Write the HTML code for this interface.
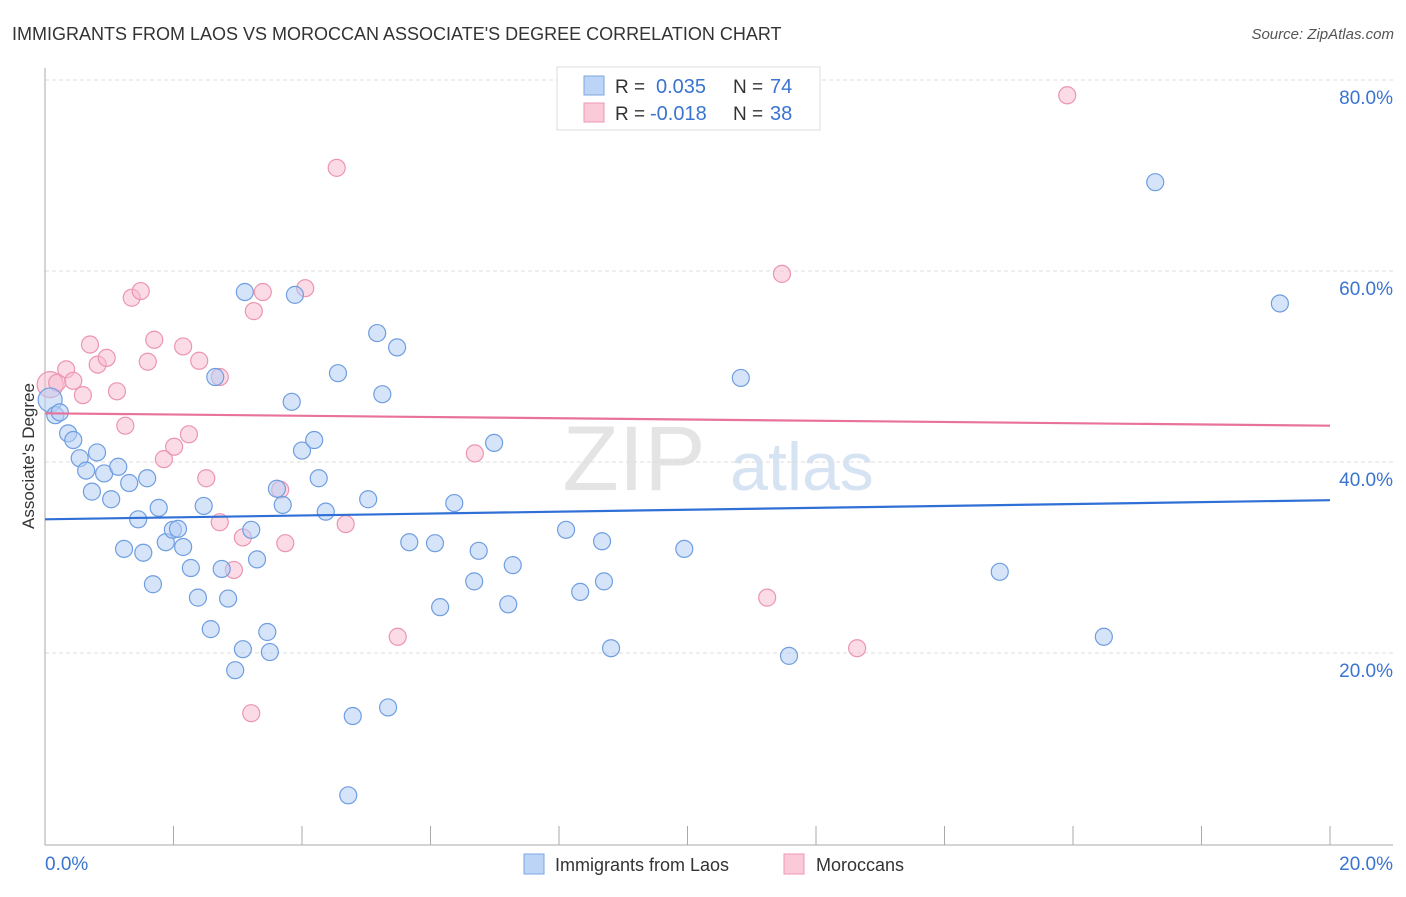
<!DOCTYPE html>
<html><head><meta charset="utf-8"><style>
body{margin:0;background:#fff;font-family:"Liberation Sans",sans-serif;}
svg text{font-family:"Liberation Sans",sans-serif;}
</style></head><body>
<svg id="chart" width="1406" height="892" xmlns="http://www.w3.org/2000/svg">
<text x="12" y="40" font-size="18" fill="#333">IMMIGRANTS FROM LAOS VS MOROCCAN ASSOCIATE'S DEGREE CORRELATION CHART</text>
<text x="1394" y="39" font-size="15" fill="#555" text-anchor="end" font-style="italic">Source: ZipAtlas.com</text>
<g>
<text x="634" y="490" font-size="92" fill="#e4e4e4" text-anchor="middle" font-family="Liberation Serif">ZIP</text>
<text x="802" y="490" font-size="68" fill="#d6e3f3" text-anchor="middle">atlas</text>
</g>
<g id="grid"></g>
<g id="axes"></g>
<g id="marks"></g>
<text transform="translate(34,456) rotate(-90)" font-size="17" fill="#333" text-anchor="middle">Associate's Degree</text>
<g>
<rect x="557" y="67" width="263" height="63" fill="#fff" stroke="#ddd"/>
<rect x="584" y="76" width="20" height="19" fill="#bcd4f5" stroke="#7ea6e0"/>
<rect x="584" y="103" width="20" height="19" fill="#fbcad8" stroke="#ec95b0"/>
<text x="615" y="93" font-size="19" fill="#333">R = </text><text x="656" y="93" font-size="20" fill="#3a74d0">0.035</text>
<text x="733" y="93" font-size="19" fill="#333">N = </text><text x="770" y="93" font-size="20" fill="#3a74d0">74</text>
<text x="615" y="120" font-size="19" fill="#333">R = </text><text x="650" y="120" font-size="20" fill="#3a74d0">-0.018</text>
<text x="733" y="120" font-size="19" fill="#333">N = </text><text x="770" y="120" font-size="20" fill="#3a74d0">38</text>
</g>
<g>
<rect x="524" y="854" width="20" height="20" fill="#bcd4f5" stroke="#7ea6e0"/>
<text x="555" y="871" font-size="18" fill="#333">Immigrants from Laos</text>
<rect x="784" y="854" width="20" height="20" fill="#fbcad8" stroke="#ec95b0"/>
<text x="816" y="871" font-size="18" fill="#333">Moroccans</text>
</g>
</svg>
<script>
const yTicks=[20,40,60,80];
const yTickLabels=["20.0%","40.0%","60.0%","80.0%"];
const xTicks=[0,2,4,6,8,10,12,14,16,18,20];
const xTickLabels=["0.0%","20.0%"];
const laosX=[0.08,0.16,0.23,0.36,0.44,0.54,0.64,0.73,0.81,0.92,1.03,1.14,1.23,1.31,1.45,1.53,1.59,1.68,1.77,1.88,1.99,2.07,2.15,2.27,2.38,2.47,2.58,2.65,2.75,2.85,2.96,3.08,3.11,3.21,3.30,3.46,3.50,3.61,3.70,3.84,3.89,4.00,4.19,4.26,4.37,4.56,4.72,4.79,5.03,5.17,5.25,5.34,5.48,5.67,6.07,6.15,6.37,6.68,6.75,6.99,7.21,7.28,8.11,8.33,8.67,8.70,8.81,9.95,10.83,11.58,14.86,16.48,17.28,19.22];
const laosY=[46.5,44.9,45.2,43.0,42.3,40.4,39.1,36.9,41.0,38.8,36.1,39.5,30.9,37.8,34.0,30.5,38.3,27.2,35.2,31.6,32.9,33.0,31.1,28.9,25.8,35.4,22.5,48.9,28.8,25.7,18.2,20.4,57.8,32.9,29.8,22.2,20.1,37.2,35.5,46.3,57.5,41.2,42.3,38.3,34.8,49.3,5.1,13.4,36.1,53.5,47.1,14.3,52.0,31.6,31.5,24.8,35.7,27.5,30.7,42.0,25.1,29.2,32.9,26.4,31.7,27.5,20.5,30.9,48.8,19.7,28.5,21.7,69.3,56.6];
const morX=[0.08,0.19,0.33,0.44,0.59,0.70,0.82,0.96,1.12,1.25,1.35,1.49,1.60,1.70,1.85,2.01,2.15,2.24,2.40,2.51,2.72,2.72,2.94,3.08,3.21,3.25,3.39,3.66,3.74,4.05,4.54,4.68,5.49,6.69,11.24,11.47,12.64,15.91];
const morY=[48.1,48.3,49.7,48.5,47.0,52.3,50.2,50.9,47.4,43.8,57.2,57.9,50.5,52.8,40.3,41.6,52.1,42.9,50.6,38.3,48.9,33.7,28.7,32.1,13.7,55.8,57.8,37.1,31.5,58.2,70.8,33.5,21.7,40.9,25.8,59.7,20.5,78.4];
const laosTrend=[34.0,36.0];
const morTrend=[45.1,43.8];
const NS="http://www.w3.org/2000/svg";
const sx=v=>45+v*64.25, sy=v=>844-v*9.55;
function mk(tag,attrs,parent){const e=document.createElementNS(NS,tag);for(const k in attrs)e.setAttribute(k,attrs[k]);document.getElementById(parent).appendChild(e);return e;}
yTicks.forEach((t,i)=>{
 const g=mk('line',{x1:45,x2:1393,y1:sy(t),y2:sy(t),stroke:'#ddd','stroke-dasharray':'4,3'},'grid');
 
 
 const l=mk('text',{x:1393,y:sy(t)+24,'font-size':19,fill:'#3a74d0','text-anchor':'end'},'axes');
 l.textContent=yTickLabels[i];
 
 
});
const ya=mk('line',{x1:45,x2:45,y1:68,y2:845,stroke:'#aaa'},'axes');


const xa=mk('line',{x1:45,x2:1393,y1:845,y2:845,stroke:'#aaa'},'axes');


xTicks.forEach(t=>{
 const tk=mk('line',{x1:sx(t),x2:sx(t),y1:826,y2:845,stroke:'#aaa'},'axes');
 
 
});
const xl0=mk('text',{x:45,y:870,'font-size':19,fill:'#3a74d0'},'axes');xl0.textContent=xTickLabels[0];


const xl1=mk('text',{x:1393,y:870,'font-size':19,fill:'#3a74d0','text-anchor':'end'},'axes');xl1.textContent=xTickLabels[1];


morX.forEach((x,i)=>{
 const c=mk('circle',{cx:sx(x),cy:sy(morY[i]),r:i==0?13:8.5,fill:'rgba(248,186,205,0.5)',stroke:'#ec95b0','stroke-width':1.2},'marks');
 
 
});
laosX.forEach((x,i)=>{
 const c=mk('circle',{cx:sx(x),cy:sy(laosY[i]),r:i==0?12:8.5,fill:'rgba(180,206,245,0.55)',stroke:'#6f9ee0','stroke-width':1.2},'marks');
 
 
});
const tl=mk('line',{x1:sx(0),x2:sx(20),y1:sy(laosTrend[0]),y2:sy(laosTrend[1]),stroke:'#2f6fd6','stroke-width':2.2},'marks');


const tm=mk('line',{x1:sx(0),x2:sx(20),y1:sy(morTrend[0]),y2:sy(morTrend[1]),stroke:'#e8729a','stroke-width':2.2},'marks');


</script>
</body></html>
